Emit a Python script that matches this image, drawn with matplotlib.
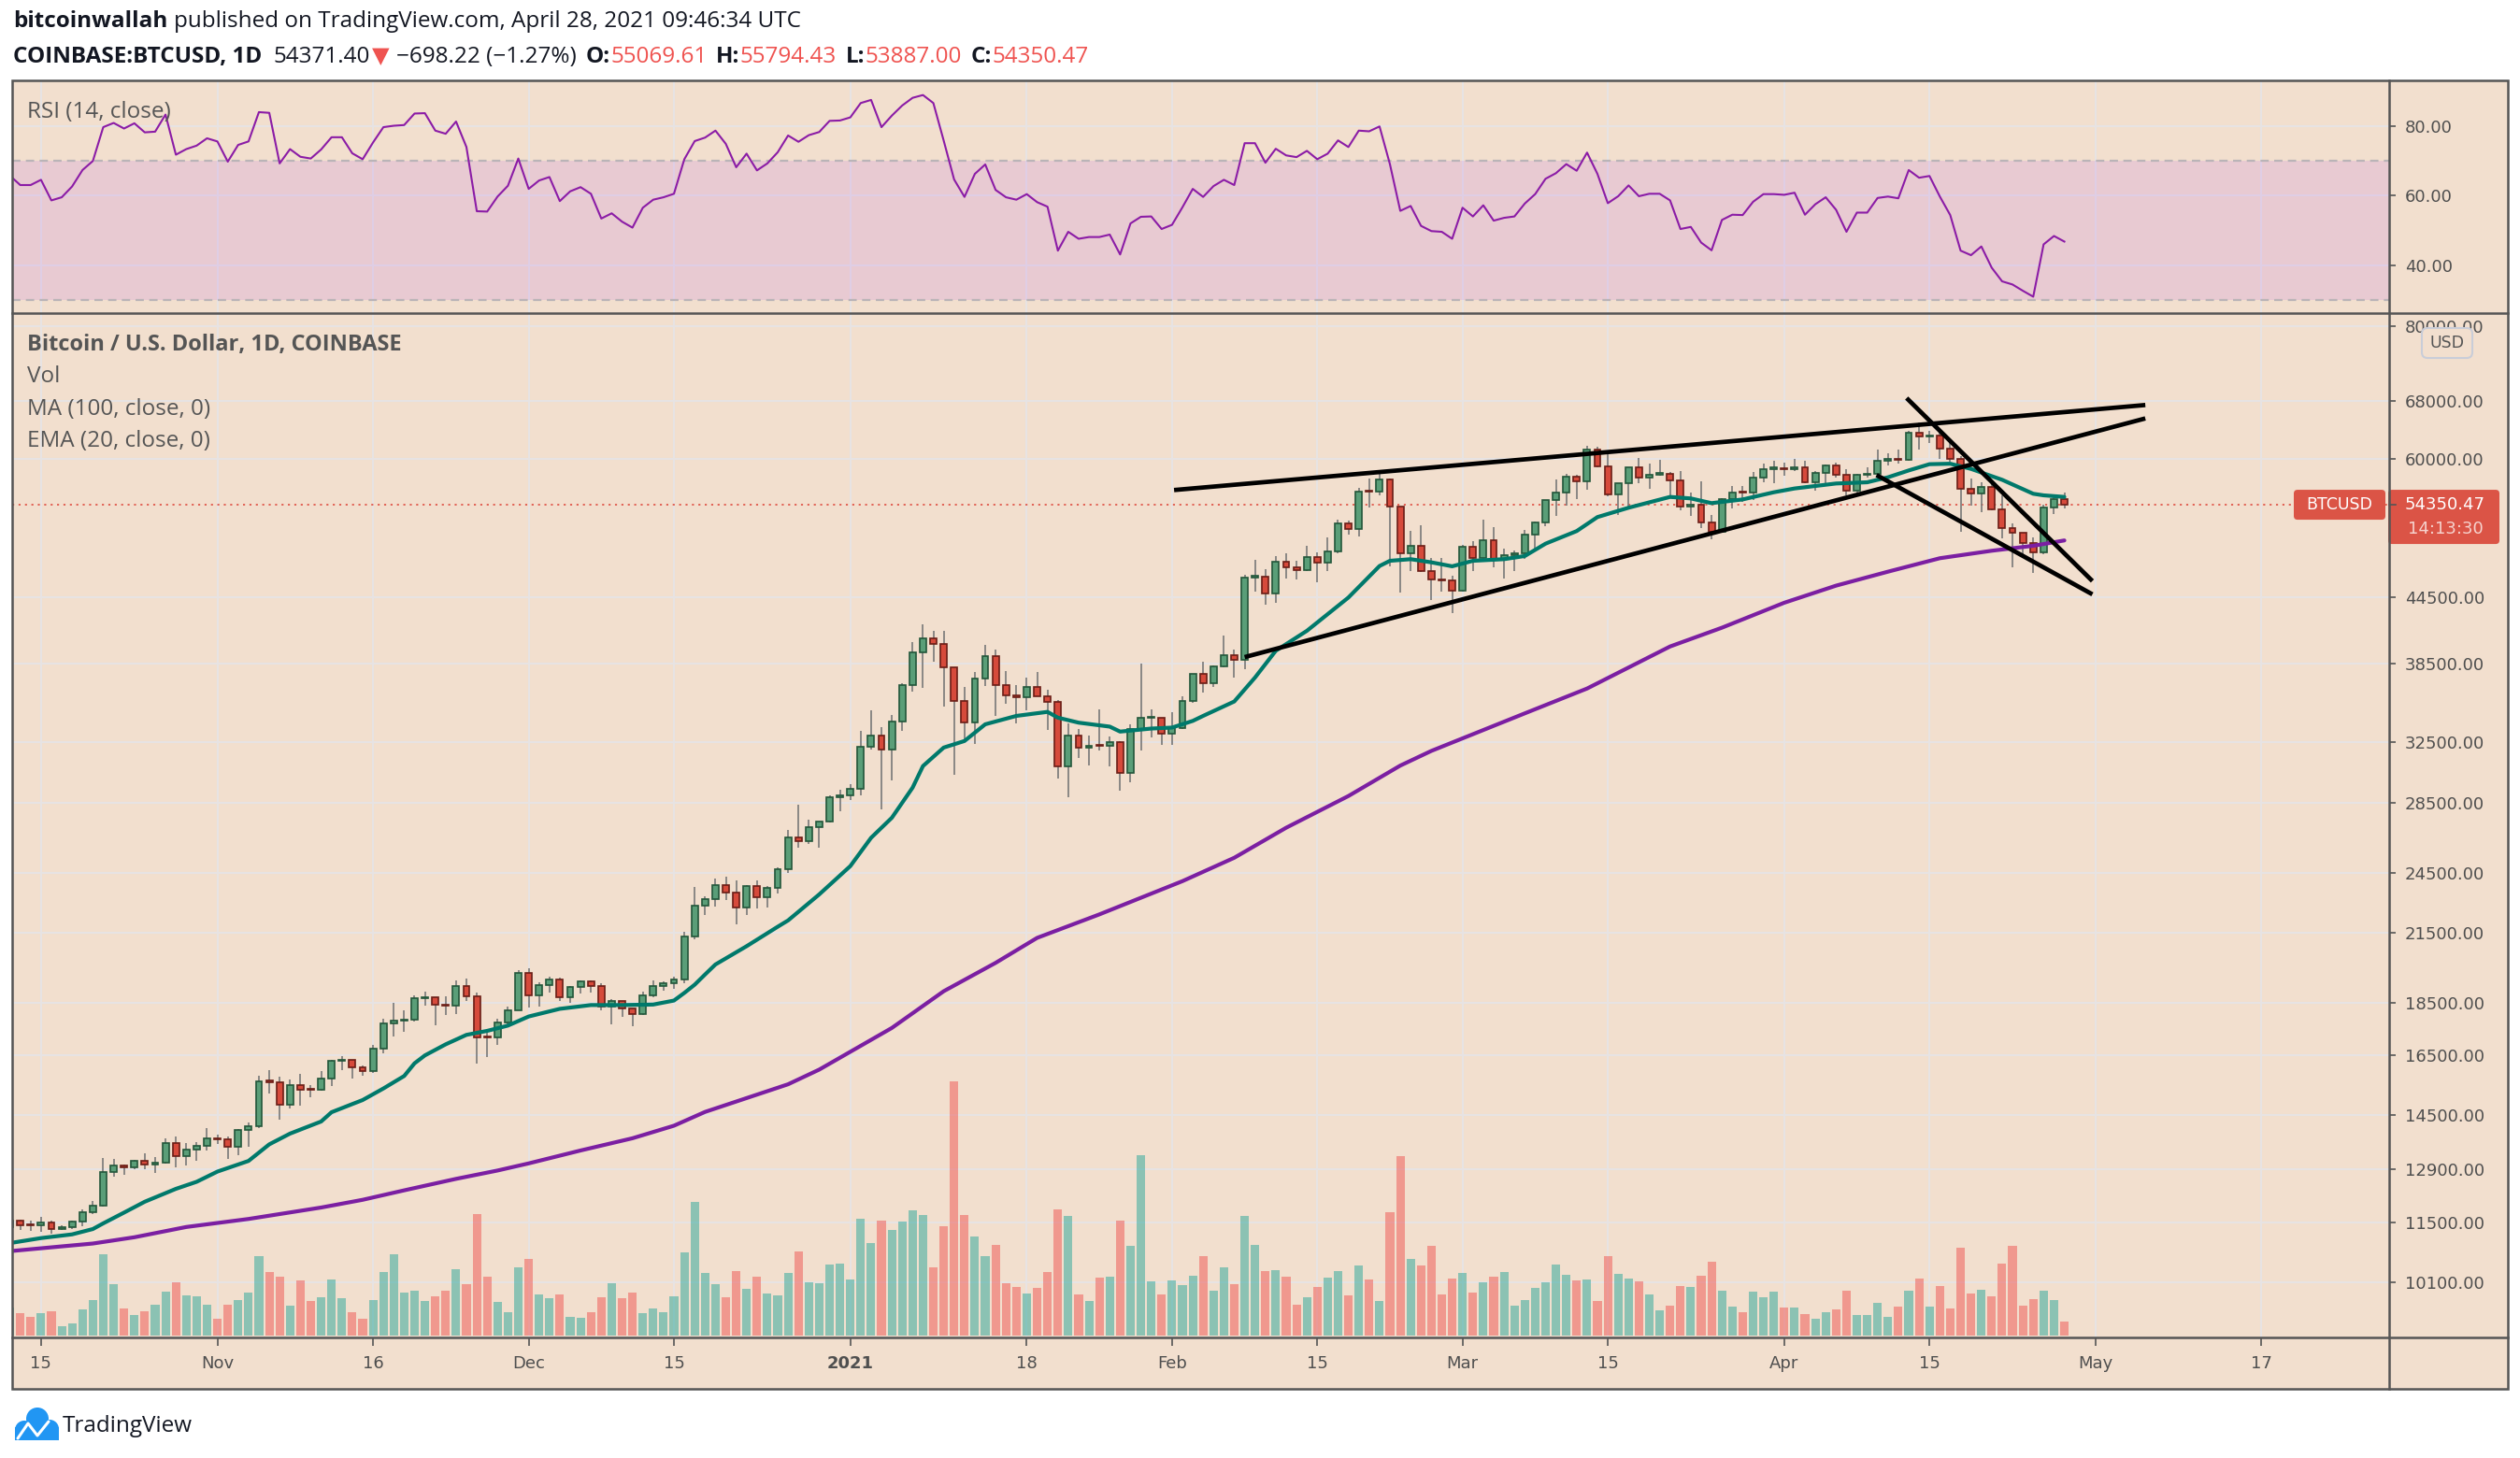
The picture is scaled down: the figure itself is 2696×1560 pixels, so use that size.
import numpy as np
import matplotlib
matplotlib.use("Agg")
from matplotlib import pyplot as plt
from matplotlib.patches import Rectangle, FancyBboxPatch, Circle
from matplotlib.ticker import FixedLocator, NullLocator

# ---- data (daily, starting 2020-10-12) ----
start_day = np.datetime64("2020-10-12")

closes = [
    11540, 11430, 11420, 11500, 11330, 11370, 11520, 11760, 11920, 12810, 12990, 12940, 13130, 13040, 13070,
    13650, 13280, 13460, 13560, 13800,
    13760, 13550, 14030, 14150, 15590, 15580, 14840, 15480, 15330, 15310, 15700, 16300, 16330, 16080, 15960,
    16730, 17680, 17800, 17820, 18680, 18710, 18420, 18370, 19160, 18740, 17150, 17140, 17730, 18180, 19710,
    18790, 19220, 19450, 18700, 19150, 19380, 19180, 18330, 18550, 18250, 18040, 18800, 19170, 19280, 19440,
    21350, 22840, 23130, 23860, 23480, 22740, 23820, 23240, 23730, 24690, 26440, 26250, 27040, 27360, 28880, 28990,
    29400, 32200, 33000, 31990, 33970, 36820, 39460, 40670, 40240, 38240, 35550, 33920, 37320, 39150, 36770,
    36010, 35800, 36630, 35890, 35470, 30850, 33010, 32090, 32280, 32250, 32500, 30420, 33420, 34270, 34300, 33110,
    33540, 35510, 37660, 36950, 38300, 39260, 38880, 46450, 46500, 44850, 48000, 47460, 47180, 48580, 47920,
    49150, 52150, 51610, 55920, 55880, 57410, 54090, 48890, 49700, 47060, 46280, 46110, 45160,
    49600, 48440, 50370, 48370, 48760, 48880, 51000, 52360, 54880, 55840, 57790, 57230, 61190, 59000, 55620,
    56900, 58910, 57650, 58030, 58100, 57350, 54100, 54340, 52300, 51290, 55030, 55840, 55780, 57610, 58760, 58800,
    58730, 58970, 57090, 58210, 59120, 58020, 56000, 57950, 58080, 59770, 59990, 59850, 63580, 62960, 63160,
    61340, 60040, 56250, 55700, 56470, 53800, 51700, 51160, 50070, 49070, 54020, 55070, 54350.47,
]
highs = [
    11730, 11560, 11550, 11630, 11540, 11420, 11540, 11820, 12030, 13210, 13200, 13030, 13170, 13350, 13240,
    13790, 13850, 13640, 13680, 14100,
    13900, 13830, 14070, 14260, 15780, 15980, 15770, 15660, 15850, 15480, 15960, 16350, 16490, 16330, 16140,
    16880, 17860, 18490, 18200, 18800, 18950, 18720, 18770, 19420, 19490, 18900, 17460, 17880, 18350, 19850,
    19920, 19340, 19570, 19520, 19170, 19420, 19400, 19290, 18640, 18560, 18280, 18950, 19420, 19350, 19570,
    21560, 23770, 23290, 24200, 24300, 24100, 23840, 24100, 23800, 24780, 26870, 28420, 27500, 27400, 28990, 29300,
    29680, 33300, 34800, 33600, 34500, 36940, 40370, 41950, 41350, 41380, 38260, 36600, 37850, 40100, 39700,
    37900, 36800, 37400, 37850, 36420, 35600, 33830, 33450, 32950, 34880, 32900, 32550, 33800, 38500, 34900, 34300,
    34700, 35900, 37700, 38700, 38350, 40950, 39700, 46750, 48200, 47300, 48680, 48950, 48150, 49700, 49000,
    50600, 52600, 52540, 56370, 57500, 58350, 57500, 54180, 51400, 52000, 48400, 48400, 46600,
    49800, 50200, 52650, 51800, 49450, 49200, 51450, 52400, 54900, 57400, 58100, 58050, 61800, 61600, 60600,
    56950, 58990, 60100, 59450, 59900, 58400, 58450, 55850, 57200, 53200, 55100, 56600, 56550, 58400, 59400, 59800,
    59500, 60000, 59800, 58500, 59300, 59500, 58650, 58150, 58900, 61200, 60700, 61300, 63800, 64900, 63800,
    63500, 62500, 60400, 57500, 57100, 56800, 55500, 52150, 51200, 50600, 54400, 55500, 55794.43,
]
lows = [
    11230, 11300, 11280, 11260, 11220, 11300, 11340, 11410, 11700, 11900, 12700, 12740, 12900, 12900, 12800,
    13060, 12960, 12990, 13140, 13430,
    13630, 13200, 13300, 13530, 14100, 15200, 14350, 14700, 14800, 15080, 15290, 15440, 15970, 15700, 15800,
    15870, 16560, 17200, 17350, 17760, 18380, 17600, 18000, 18060, 18570, 16200, 16450, 16880, 17550, 18180,
    18320, 18330, 18920, 18580, 18500, 18860, 18910, 18200, 17650, 17920, 17570, 18020, 18720, 19000, 19050,
    19300, 21230, 22350, 22760, 23080, 21900, 22380, 22700, 22710, 23440, 24500, 25860, 26100, 25880, 27340, 28000,
    28680, 29000, 32000, 28130, 29900, 33300, 36300, 36570, 38720, 35110, 30300, 32500, 32400, 36700, 34400,
    35360, 33850, 34800, 35880, 33400, 30070, 28850, 31400, 30900, 31900, 30830, 29240, 29800, 31920, 32860, 32300,
    32300, 33450, 35400, 36200, 36600, 38200, 37400, 38050, 45000, 43800, 43980, 46300, 46250, 47100, 46000,
    47100, 48950, 50900, 50700, 54000, 55480, 47600, 44900, 47100, 47000, 44200, 45000, 43000,
    45000, 47050, 48100, 47500, 46300, 47100, 48300, 49300, 51850, 53000, 54300, 55000, 56100, 58900, 55400,
    53200, 54100, 57000, 56300, 57900, 55500, 53700, 53000, 51700, 50400, 51250, 53950, 54700, 54900, 57050, 56900,
    57900, 58450, 56900, 56000, 56800, 57600, 55450, 55750, 57700, 57900, 59200, 59400, 59800, 61300, 62100,
    60000, 59700, 51300, 54200, 53500, 53650, 50500, 47500, 48800, 46930, 48800, 53300, 53887.00,
]
first_open = 11370
last_open = 55069.61

# volume bar heights (same units throughout)
volume = [
    90, 72, 60, 72, 78, 30, 39, 84, 114, 261, 165, 87, 66, 78, 99, 141, 171, 129, 126, 99,
    54, 99, 114, 138, 255, 204, 189, 96, 177, 111, 123, 180, 120, 75, 54, 114, 204, 261, 138, 144,
    111, 126, 144, 213, 165, 390, 189, 108, 75, 219,
    246, 132, 120, 132, 60, 57, 75, 123, 168, 120, 138, 72, 87, 75, 126, 267, 429, 201,
    165, 123, 207, 150, 189, 135, 129, 201, 270, 171, 168, 228, 231,
    180, 375, 297, 369, 339, 366, 402, 387, 219, 351, 816, 387, 318, 255, 291, 168, 156, 135, 153, 204,
    405, 384, 132, 111, 186, 189, 369, 288, 579, 174, 132,
    177, 162, 192, 255, 144, 219, 165, 384, 291, 207, 210, 189, 99, 123, 156, 186, 207, 129, 225, 180,
    111, 396, 576, 246, 225, 288, 132, 183,
    201, 138, 171, 189, 204, 96, 114, 153, 171, 228, 195, 177, 180, 111, 255, 198, 183, 174, 132, 81,
    96, 159, 156, 192, 237, 144, 93, 75, 141, 123, 141,
    90, 90, 69, 54, 75, 84, 144, 66, 66, 105, 60, 93, 144, 183, 93, 159, 87, 282, 135, 147,
    126, 231, 288, 96, 117, 144, 114, 45,
]

rsi = [
    65.7, 63.0, 63.0, 64.5, 58.6, 59.5, 62.6, 67.3, 69.9, 79.6, 80.8, 79.2, 80.7, 78.1, 78.3, 83.2, 71.7, 73.3, 74.3, 76.4,
    75.5, 69.7, 74.5, 75.5, 83.9, 83.7, 69.2, 73.3, 71.1, 70.6, 73.2, 76.7, 76.7, 72.1, 70.4, 75.2, 79.6, 80.0, 80.2, 83.5,
    83.6, 78.6, 77.7, 81.2, 73.9, 55.5, 55.4, 59.7, 62.8, 70.6,
    61.9, 64.3, 65.3, 58.4, 61.2, 62.4, 60.5, 53.4, 54.9, 52.5, 50.8, 56.5, 58.8, 59.5, 60.5, 70.4, 75.6, 76.6, 78.6, 74.8,
    68.1, 72.0, 67.2, 69.2, 72.4, 77.2, 75.4, 77.3, 78.2, 81.4, 81.5,
    82.4, 86.5, 87.4, 79.6, 82.9, 85.8, 88.0, 88.8, 86.5, 75.7, 64.6, 59.6, 66.2, 68.9, 61.6, 59.5, 58.8, 60.4, 58.1, 56.8,
    44.2, 49.6, 47.6, 48.1, 48.1, 48.8, 43.1, 52.0, 53.9, 54.0, 50.4,
    51.6, 56.6, 61.9, 59.6, 62.7, 64.5, 63.0, 75.0, 75.0, 69.4, 73.4, 71.5, 71.0, 72.8, 70.4, 72.0, 75.8, 73.9, 78.6, 78.4,
    79.8, 69.0, 55.6, 57.0, 51.3, 49.8, 49.6, 47.6,
    56.5, 54.0, 57.2, 52.8, 53.6, 54.0, 57.7, 60.4, 64.8, 66.4, 69.0, 67.1, 72.3, 66.2, 57.8, 59.8, 62.9, 59.8, 60.5, 60.5,
    58.6, 50.4, 51.0, 46.5, 44.3, 53.0, 54.5, 54.4, 58.2, 60.4, 60.4,
    60.2, 60.8, 54.5, 57.5, 59.5, 55.9, 49.6, 55.1, 55.1, 59.3, 59.7, 59.2, 67.3, 65.1, 65.6, 59.7, 54.4, 44.2, 42.9, 45.4,
    39.3, 35.4, 34.5, 32.7, 31.0, 46.0, 48.4, 46.8,
]

# EMA 20 and MA 100 read at sample days (day index from start_day)
ema_day = [0, 3, 6, 8, 9, 11, 13, 16, 18, 20, 23, 25, 27, 30, 31, 33, 34, 36, 38, 39,
           40, 42, 44, 46, 48, 50, 53, 56, 59, 62, 64, 65, 66, 67, 68, 71, 74, 75, 78, 81,
           83, 85, 87, 88, 90, 92, 94, 97, 100, 101, 103, 106, 107, 110, 112, 114, 115, 118, 120, 122,
           125, 129, 132, 133, 135, 137, 139, 141, 144, 146, 148, 151, 153, 156, 160, 162, 164, 167, 170, 172,
           176, 179, 181, 183, 185, 187, 189, 192, 195, 196, 198]
ema_val = [10990, 11110, 11200, 11330, 11470, 11740, 12020, 12360, 12550, 12830, 13130, 13610, 13930, 14300, 14590,
           14850, 14980, 15360, 15780, 16220,
           16500, 16900, 17250, 17400, 17600, 17950, 18250, 18400, 18400, 18420, 18580, 18890, 19230, 19660, 20090,
           20900, 21800, 22100, 23380, 24860,
           26430, 27600, 29460, 30870, 32130, 32590, 33790, 34410, 34710, 34280, 33910, 33620, 33260, 33480, 33550,
           34040, 34410, 35500, 37390, 39620,
           41370, 44460, 47600, 48140, 48310, 47980, 47570, 48140, 48310, 48640, 49960, 51340, 52920, 54000, 55280,
           55100, 54540, 54980, 55840, 56300,
           56910, 57060, 57680, 58540, 59340, 59400, 58740, 57370, 55660, 55470, 55280]
ma_day = [0, 4, 8, 12, 17, 23, 30, 34, 38, 43, 47, 50, 55, 60, 64, 67, 75, 78, 85, 90,
          95, 99, 105, 113, 118, 123, 129, 134, 137, 146, 152, 160, 165, 171, 176, 181, 186, 191, 195, 198]
ma_val = [10800, 10890, 10980, 11130, 11380, 11580, 11870, 12070, 12320, 12630, 12860, 13060, 13430, 13790, 14170,
          14600, 15500, 16000, 17510, 18960,
          20160, 21280, 22390, 24060, 25310, 27010, 28930, 30900, 31900, 34600, 36510, 39990, 41650, 43960, 45620,
          47020, 48410, 49200, 49730, 50310]

# drawn trend lines: (day0, price0, day1, price1)
trend_lines = [
    (112.2, 56110, 205.8, 67450),
    (119.0, 39080, 205.8, 65520),
    (182.8, 68470, 200.7, 46080),
    (179.9, 57960, 200.7, 44770),
]

price_ticks = [80000, 68000, 60000, 44500, 38500, 32500, 28500, 24500, 21500, 18500, 16500, 14500, 12900, 11500, 10100]
rsi_ticks = [80, 60, 40]
time_tick_dates = ["2020-10-15", "2020-11-01", "2020-11-16", "2020-12-01", "2020-12-15", "2021-01-01",
                   "2021-01-18", "2021-02-01", "2021-02-15", "2021-03-01", "2021-03-15", "2021-04-01",
                   "2021-04-15", "2021-05-01", "2021-05-17"]
time_tick_labels = ["15", "Nov", "16", "Dec", "15", "2021", "18", "Feb", "15", "Mar", "15", "Apr", "15", "May", "17"]
last_price = 54350.47

# ---- styling ----
PEACH = "#f2dfce"
GRID = "#e7e3e3"
FRAME = "#555555"
AXTXT = "#4f4f4f"
UP_FILL, UP_EDGE = "#5a9e78", "#22563a"
DN_FILL, DN_EDGE = "#d64a3b", "#6b1d16"
WICK = "#787878"
RED = "#ef5350"

W, H = 2696, 1560
L, R_PLOT, R_FRAME = 13, 2556, 2683
TOP, SEP, BOT, AX_BOT = 86, 335, 1431, 1486


def fig_rect(x0, y0, x1, y1):
    return [x0 / W, 1 - y1 / H, (x1 - x0) / W, (y1 - y0) / H]


fig = plt.figure(figsize=(W / 100, H / 100), dpi=100)
fig.patch.set_facecolor("white")

bg = fig.add_axes([0, 0, 1, 1])
bg.set_xlim(0, W)
bg.set_ylim(H, 0)
bg.axis("off")
bg.set_zorder(-10)
bg.add_patch(Rectangle((L, TOP), R_FRAME - L, AX_BOT - TOP, facecolor=PEACH, edgecolor="none"))

n = len(closes)
x = np.arange(n)
closes = np.array(closes, dtype=float)
opens = np.concatenate([[first_open], closes[:-1]])
opens[-1] = last_open
highs = np.array(highs, dtype=float)
lows = np.array(lows, dtype=float)
up = closes >= opens

tick_pos = (np.array(time_tick_dates, dtype="datetime64[D]") - start_day).astype(int)
XLIM = (0.22, 229.3)

# ---- RSI pane ----
ax_rsi = fig.add_axes(fig_rect(L, TOP, R_PLOT, SEP))
ax_rsi.patch.set_visible(False)
ax_rsi.set_zorder(2)
for t in rsi_ticks:
    ax_rsi.axhline(t, color=GRID, lw=1.5, zorder=1)
for p in tick_pos:
    ax_rsi.axvline(p, color=GRID, lw=1.5, zorder=1)
ax_rsi.axhspan(30, 70, color="#9915ff", alpha=0.1, lw=0, zorder=2)
ax_rsi.axhline(70, color="#bab4b7", lw=1.6, ls=(0, (4, 2.6)), zorder=3)
ax_rsi.axhline(30, color="#bab4b7", lw=1.6, ls=(0, (4, 2.6)), zorder=3)
ax_rsi.plot(x, rsi, color="#8b1ca6", lw=1.5, zorder=4)
ax_rsi.set_xlim(*XLIM)
ax_rsi.set_ylim(26.3, 93.0)
ax_rsi.set_xticks(tick_pos)
ax_rsi.set_xticklabels([])
ax_rsi.tick_params(axis="x", length=0)
ax_rsi.yaxis.tick_right()
ax_rsi.set_yticks(rsi_ticks)
ax_rsi.set_yticklabels([f"{t:.2f}" for t in rsi_ticks])
ax_rsi.tick_params(axis="y", length=5, width=1.2, color=FRAME, labelsize=13, labelcolor=AXTXT, pad=7)
for s in ax_rsi.spines.values():
    s.set_visible(False)

# ---- price pane ----
ax = fig.add_axes(fig_rect(L, SEP, R_PLOT, BOT))
ax_vol = ax.twinx()
ax.set_zorder(2)
ax_vol.set_zorder(1)
ax.patch.set_visible(False)
ax_vol.patch.set_visible(False)

ax.set_yscale("log")
ax.set_xlim(*XLIM)
ax.set_ylim(8960, 82300)

for p in price_ticks:
    ax_vol.plot([0, 1], [p, p], color=GRID, lw=1.5, zorder=0, transform=ax.get_yaxis_transform())
for p in tick_pos:
    ax_vol.axvline(p, color=GRID, lw=1.5, zorder=0)

vol_colors = np.where(up, "#26a69a", "#ef5350")
ax_vol.bar(x, volume, width=0.82, color=vol_colors, alpha=0.5, lw=0, zorder=1)
ax_vol.set_ylim(-6, 3282)
ax_vol.set_yticks([])
for s in ax_vol.spines.values():
    s.set_visible(False)

ax.axhline(last_price, color="#e0584c", lw=1.3, ls=(0, (1.2, 2.6)), zorder=2)
ax.vlines(x, lows, highs, color=WICK, lw=1.2, zorder=3)
body_lo = np.minimum(opens, closes)
body_h = np.maximum(np.abs(closes - opens), opens * 0.0025)
ax.bar(x, body_h, bottom=body_lo, width=0.62,
       color=np.where(up, UP_FILL, DN_FILL), edgecolor=np.where(up, UP_EDGE, DN_EDGE),
       linewidth=1.2, zorder=4)
ax.plot(ma_day, ma_val, color="#7b1fa2", lw=3.0, zorder=5, solid_capstyle="round", solid_joinstyle="round")
ax.plot(ema_day, ema_val, color="#00796b", lw=3.0, zorder=5, solid_capstyle="round", solid_joinstyle="round")
for d0, p0, d1, p1 in trend_lines:
    ax.plot([d0, d1], [p0, p1], color="black", lw=3.4, zorder=6, solid_capstyle="butt")

ax.set_xlim(*XLIM)
ax.set_ylim(8960, 82300)
ax.yaxis.tick_right()
ax.yaxis.set_major_locator(FixedLocator(price_ticks))
ax.yaxis.set_minor_locator(NullLocator())
ax.set_yticklabels([f"{p:.2f}" for p in price_ticks])
ax.tick_params(axis="y", length=5, width=1.2, color=FRAME, labelsize=13, labelcolor=AXTXT, pad=7)
ax.set_xticks(tick_pos)
ax.set_xticklabels(time_tick_labels)
ax.xaxis.set_minor_locator(NullLocator())
ax.tick_params(axis="x", direction="out", length=6.5, width=1.2, color=FRAME,
               labelsize=13, labelcolor=AXTXT, pad=7)
ax.get_xticklabels()[5].set_fontweight("bold")
for s in ax.spines.values():
    s.set_visible(False)

# ---- overlay: frame, labels, header ----
ov = fig.add_axes([0, 0, 1, 1])
ov.set_xlim(0, W)
ov.set_ylim(H, 0)
ov.axis("off")
ov.set_zorder(10)
ov.patch.set_visible(False)

ov.add_patch(Rectangle((L, TOP), R_FRAME - L, AX_BOT - TOP, fill=False, edgecolor=FRAME, lw=1.8))
ov.plot([L, R_FRAME], [SEP, SEP], color=FRAME, lw=1.8)
ov.plot([L, R_FRAME], [BOT, BOT], color=FRAME, lw=1.8)
ov.plot([R_PLOT, R_PLOT], [TOP, AX_BOT], color=FRAME, lw=1.8)

fig.canvas.draw()
renderer = fig.canvas.get_renderer()
y_last = H - ax.transData.transform((0, last_price))[1]

# USD badge
ov.add_patch(FancyBboxPatch((2591, 351), 54, 32, boxstyle="round,pad=0,rounding_size=6",
                            facecolor=PEACH, edgecolor="#c9cdd8", lw=1.5))
ov.text(2618, 367, "USD", ha="center", va="center", fontsize=12.5, color="#555555", family="DejaVu Sans")

# last price labels
ov.add_patch(FancyBboxPatch((2454, y_last - 16), 98, 32, boxstyle="round,pad=0,rounding_size=4",
                            facecolor="#db5446", edgecolor="none"))
ov.text(2503, y_last, "BTCUSD", ha="center", va="center", fontsize=12.5, color="white", family="DejaVu Sans")
ov.add_patch(FancyBboxPatch((2555, y_last - 16), 119, 58, boxstyle="round,pad=0,rounding_size=4",
                            facecolor="#db5446", edgecolor="none"))
ov.plot([2556, 2563], [y_last, y_last], color=FRAME, lw=1.2)
ov.text(2573, y_last, f"{last_price:.2f}", ha="left", va="center", fontsize=13, color="white", family="DejaVu Sans")
ov.text(2576, y_last + 26, "14:13:30", ha="left", va="center", fontsize=13, color="#f6d3ce", family="DejaVu Sans")


def write_runs(x0, y0, runs, size):
    xx = x0
    for text, color, weight, gap in runs:
        t = ov.text(xx, y0, text, color=color, fontsize=size, fontweight=weight,
                    family=["Open Sans", "DejaVu Sans"], va="baseline", ha="left")
        bb = t.get_window_extent(renderer=renderer)
        xx = bb.x1 + gap


INK = "#131722"
write_runs(14, 29, [("bitcoinwallah", INK, "bold", 7),
                    ("published on TradingView.com, April 28, 2021 09:46:34 UTC", INK, "normal", 0)], 17.5)
write_runs(14, 67, [("COINBASE:BTCUSD, 1D", INK, "bold", 12),
                    ("54371.40", INK, "normal", 2),
                    ("\u25bc", RED, "normal", 8),
                    ("\u2212698.22 (\u22121.27%)", INK, "normal", 10),
                    ("O:", INK, "bold", 0), ("55069.61", RED, "normal", 10),
                    ("H:", INK, "bold", 0), ("55794.43", RED, "normal", 10),
                    ("L:", INK, "bold", 0), ("53887.00", RED, "normal", 10),
                    ("C:", INK, "bold", 0), ("54350.47", RED, "normal", 0)], 17.5)

LEG = "#555555"
ov.text(29, 120, "RSI (14, close)", fontsize=17.5, color=LEG, family="Open Sans", va="center")
ov.text(29, 369, "Bitcoin / U.S. Dollar, 1D, COINBASE", fontsize=17, color=LEG, family="Open Sans",
        fontweight="bold", va="center")
ov.text(29, 403, "Vol", fontsize=17.5, color=LEG, family="Open Sans", va="center")
ov.text(29, 438, "MA (100, close, 0)", fontsize=17.5, color=LEG, family="Open Sans", va="center")
ov.text(29, 472, "EMA (20, close, 0)", fontsize=17.5, color=LEG, family="Open Sans", va="center")

# footer logo
BLUE = "#2196f3"
for cx, cy, r in [(40, 1518, 12), (26, 1530, 10), (53, 1529, 10)]:
    ov.add_patch(Circle((cx, cy), r, facecolor=BLUE, edgecolor="none"))
ov.add_patch(Rectangle((16, 1527), 47, 14, facecolor=BLUE, edgecolor="none"))
ov.plot([19, 30, 40, 52], [1539, 1523, 1536, 1521], color="white", lw=2.2, solid_capstyle="round")
ov.text(67, 1526, "TradingView", fontsize=17.5, color=INK, family="Open Sans", va="center")

fig.savefig("out.png", dpi=100, facecolor="white")
